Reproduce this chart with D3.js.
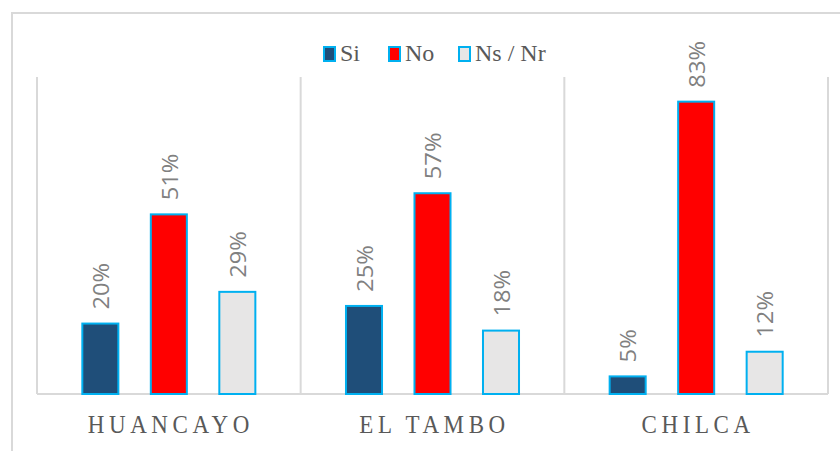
<!DOCTYPE html>
<html>
<head>
<meta charset="utf-8">
<script src="https://cdn.jsdelivr.net/npm/d3@7"></script>
<style>
  body { margin: 0; background: #fff; }
</style>
</head>
<body>
<div id="chart"></div>
<script>
// data (percent)
let categories = ["HUANCAYO", "EL TAMBO", "CHILCA"];
let seriesNames = ["Si", "No", "Ns / Nr"];
let siValues = [20, 25, 5];
let noValues = [51, 57, 83];
let nsValues = [29, 18, 12];
let seriesColors = ["#1f4e79", "#ff0000", "#e7e6e6"];

let svgWidth = 840;
let svgHeight = 451;
let margin = { top: 77, right: 12, bottom: 57, left: 37 };
let chartWidth = svgWidth - margin.left - margin.right;
let chartHeight = svgHeight - margin.top - margin.bottom;

let svg = d3.select("#chart")
  .append("svg")
  .attr("width", svgWidth)
  .attr("height", svgHeight)
  .style("display", "block");

// outer chart border (runs off the right / bottom edge)
svg.append("rect")
  .attr("x", 12)
  .attr("y", 13)
  .attr("width", 840)
  .attr("height", 460)
  .attr("fill", "#fff")
  .attr("stroke", "#d9d9d9")
  .attr("stroke-width", 2);

let chartGroup = svg.append("g")
  .attr("transform", `translate(${margin.left}, ${margin.top})`);

// build rows from the arrays
let rows = categories.map((c, i) => ({
  category: c,
  values: [siValues[i], noValues[i], nsValues[i]]
}));

let xBand = d3.scaleBand()
  .domain(categories)
  .range([0, chartWidth])
  .padding(0);

let inner = 205.5;
let xInner = d3.scaleBand()
  .domain(seriesNames)
  .range([(xBand.bandwidth() - inner) / 2, (xBand.bandwidth() + inner) / 2])
  .paddingInner(0.474)
  .paddingOuter(0.237);

let yScale = d3.scaleLinear()
  .domain([0, 90])
  .range([chartHeight, 0]);

// vertical separators between categories
let edges = categories.map(c => xBand(c)).concat([chartWidth]);
chartGroup.selectAll(".sep")
  .data(edges)
  .enter()
  .append("line")
  .attr("class", "sep")
  .attr("x1", d => d)
  .attr("x2", d => d)
  .attr("y1", 0)
  .attr("y2", chartHeight)
  .attr("stroke", "#d9d9d9")
  .attr("stroke-width", 2);

// baseline
chartGroup.append("line")
  .attr("x1", 0)
  .attr("x2", chartWidth)
  .attr("y1", chartHeight)
  .attr("y2", chartHeight)
  .attr("stroke", "#d9d9d9")
  .attr("stroke-width", 2);

let groups = chartGroup.selectAll(".cat")
  .data(rows)
  .enter()
  .append("g")
  .attr("class", "cat")
  .attr("transform", d => `translate(${xBand(d.category)}, 0)`);

let cells = d => d.values.map((v, j) => ({ name: seriesNames[j], value: v, color: seriesColors[j] }));

groups.selectAll(".bar")
  .data(cells)
  .enter()
  .append("rect")
  .attr("class", "bar")
  .attr("x", d => xInner(d.name))
  .attr("y", d => yScale(d.value))
  .attr("width", xInner.bandwidth())
  .attr("height", d => chartHeight - yScale(d.value))
  .attr("fill", d => d.color)
  .attr("stroke", "#00b0f0")
  .attr("stroke-width", 2);

// value labels, rotated, a little stretched along their length like the original
groups.selectAll(".lbl")
  .data(cells)
  .enter()
  .append("text")
  .attr("class", "lbl")
  .attr("transform", d => `translate(${xInner(d.name) + xInner.bandwidth() / 2 + 1}, ${yScale(d.value) - 14}) rotate(-90) scale(1.08, 1)`)
  .attr("dy", "0.35em")
  .attr("text-anchor", "start")
  .style("font-family", "'Open Sans', sans-serif")
  .style("font-size", "22px")
  .attr("fill", "#808080")
  .text(d => d.value + "%");

// category labels
chartGroup.selectAll(".catLabel")
  .data(categories)
  .enter()
  .append("text")
  .attr("class", "catLabel")
  .attr("transform", d => `translate(${xBand(d) + xBand.bandwidth() / 2 + 2}, ${chartHeight + 39}) scale(1, 1.1)`)
  .attr("text-anchor", "middle")
  .style("font-family", "'Liberation Serif', serif")
  .style("font-size", "23px")
  .style("letter-spacing", "4.6px")
  .attr("fill", "#595959")
  .text(d => d);

// legend
let legendX = [323, 388, 458];
let legend = svg.selectAll(".legend")
  .data(seriesNames)
  .enter()
  .append("g")
  .attr("class", "legend")
  .attr("transform", (d, i) => `translate(${legendX[i]}, 46)`);

legend.append("rect")
  .attr("x", 1)
  .attr("y", 1)
  .attr("width", 11)
  .attr("height", 14)
  .attr("fill", (d, i) => seriesColors[i])
  .attr("stroke", "#00b0f0")
  .attr("stroke-width", 2);

legend.append("text")
  .attr("x", 17)
  .attr("y", 15)
  .style("font-family", "'Liberation Serif', serif")
  .style("font-size", "24px")
  .attr("fill", "#595959")
  .text(d => d);
</script>
</body>
</html>
